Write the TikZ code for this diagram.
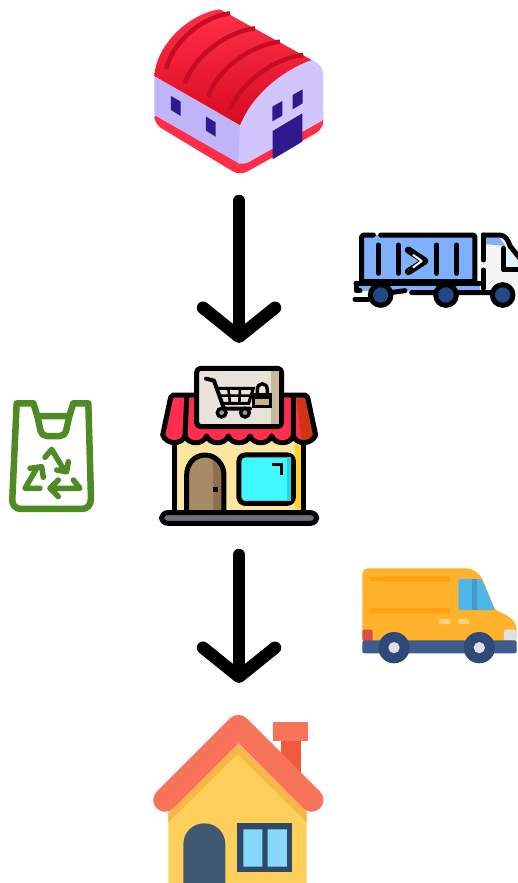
\documentclass[tikz,border=0pt]{standalone}
\usetikzlibrary{arrows.meta}
\definecolor{whdark}{HTML}{C40D24}
\definecolor{whlow}{HTML}{D80A20}
\definecolor{whred}{HTML}{FF3048}
\definecolor{whbase}{HTML}{FF2E48}
\definecolor{wall}{HTML}{C0B4F8}
\definecolor{wallb}{HTML}{D0C6FB}
\definecolor{navyw}{HTML}{2E1A8C}
\definecolor{cont}{HTML}{7FB0FB}
\definecolor{wheelb}{HTML}{23488A}
\definecolor{awn}{HTML}{FF2E50}
\definecolor{awnd}{HTML}{CF3510}
\definecolor{shopw}{HTML}{FFE6A0}
\definecolor{shops}{HTML}{FFD52A}
\definecolor{doorc}{HTML}{A98A66}
\definecolor{doors}{HTML}{8C6F4E}
\definecolor{glass}{HTML}{40F8FF}
\definecolor{glasss}{HTML}{20D8E0}
\definecolor{signc}{HTML}{E9E2DA}
\definecolor{signs}{HTML}{C9B69F}
\definecolor{basec}{HTML}{6E6E78}
\definecolor{lockc}{HTML}{C9AE86}
\definecolor{bagc}{HTML}{4E8B25}
\definecolor{vanb}{HTML}{FFB32C}
\definecolor{vand}{HTML}{FFA00D}
\definecolor{vanw}{HTML}{4DB8E8}
\definecolor{vanc}{HTML}{3E5C8A}
\definecolor{vanwh}{HTML}{2F4A78}
\definecolor{vanl}{HTML}{D94F45}
\definecolor{roofc}{HTML}{F7735A}
\definecolor{chim}{HTML}{F25A40}
\definecolor{hwall}{HTML}{FFCF5C}
\definecolor{hband}{HTML}{F9B648}
\definecolor{hdoor}{HTML}{3F5A70}
\definecolor{hframe}{HTML}{2F4A68}
\definecolor{hglass}{HTML}{88D8FA}
\tikzset{
  zoomat/.style 2 args={xshift=#1pt,yshift=-#2pt,x=0.3333pt,y=-0.3333pt},
  icon/.style={inner sep=0pt,outer sep=0pt},
  conn/.style={line width=12.5pt,line cap=round,-{Straight Barb[length=29pt,width=72pt,round]}},
  ink/.style={draw=black,line width=5pt,line join=round,line cap=round},
  bagline/.style={draw=bagc,line width=6.5pt,line join=round,line cap=round},
  recyc/.style={draw=bagc,line width=5.5pt,line join=round,line cap=round},
}
\begin{document}
\begin{tikzpicture}[x=1pt,y=-1pt]
\useasboundingbox (0,0) rectangle (518,883);
\clip (0,0) rectangle (518,883);

\node[icon,minimum width=170pt,minimum height=170pt] (warehouse) at (239,92) {};
\node[icon,minimum width=160pt,minimum height=160pt] (store) at (239,445) {};
\node[icon,minimum width=170pt,minimum height=170pt] (house) at (239,800) {};
\node[icon,minimum width=164pt,minimum height=75pt] (truck) at (436,268) {};
\node[icon,minimum width=84pt,minimum height=110pt] (bag) at (52,456) {};
\node[icon,minimum width=156pt,minimum height=96pt] (van) at (440,616) {};

% warehouse
\begin{scope}[zoomat={140}{0}]
  \fill[whbase,rounded corners=8pt] (43,335) -- (43,372) -- (300,527) -- (550,387) -- (550,335) -- cycle;
  \fill[wall] (43,228) -- (300,375) -- (300,492) -- (43,345) -- cycle;
  \fill[wallb] (300,375) .. controls (340,280) and (430,210) .. (515,180) .. controls (540,190) and (550,205) .. (550,225) -- (550,360) -- (325,487) .. controls (315,492) and (305,492) .. (295,490) -- cycle;
  \shade[top color=whred,bottom color=whlow] (43,228) .. controls (50,130) and (150,40) .. (240,28) -- (515,180) .. controls (430,210) and (340,280) .. (300,375) -- cycle;
  \draw[whdark,line width=4.5pt] (78,208) .. controls (100,120) and (190,50) .. (270,40);
  \draw[whdark,line width=4.5pt] (135,250) .. controls (160,170) and (260,95) .. (345,85);
  \draw[whdark,line width=4.5pt] (205,290) .. controls (230,210) and (330,135) .. (420,125);
  \draw[whdark,line width=4.5pt] (270,330) .. controls (300,250) and (400,175) .. (490,165);
  \fill[navyw] (93,288) -- (122,305) -- (122,348) -- (93,330) -- cycle;
  \fill[navyw] (198,350) -- (227,367) -- (227,410) -- (198,392) -- cycle;
  \fill[navyw] (397,320) -- (427,303) -- (427,347) -- (397,364) -- cycle;
  \fill[navyw] (458,285) -- (488,268) -- (488,310) -- (458,328) -- cycle;
  \fill[navyw] (398,393) -- (487,340) -- (487,425) -- (398,478) -- cycle;
\end{scope}

% truck
\begin{scope}[zoomat={340}{220}]
  \fill[cont] (65,45) rectangle (405,185);
  \fill[white!96!black] (430,50) -- (480,50) -- (510,85) -- (540,120) -- (540,225) -- (430,205) -- cycle;
  \fill[cont] (432,52) -- (478,52) -- (497,78) -- (432,72) -- cycle;
  \fill[cyan!12] (492,85) -- (540,110) -- (540,150) -- (492,150) -- cycle;
  \draw[ink] (100,45) -- (70,45) -- (65,50) -- (65,185) -- (405,185) -- (405,50) -- (400,45) -- (122,45);
  \draw[ink] (115,75) -- (115,160) (175,75) -- (175,160) (290,75) -- (290,160) (350,75) -- (350,160);
  \draw[black,line width=7pt,line cap=round,line join=round] (205,90) -- (255,123) -- (205,155);
  \draw[white,line width=2pt,line cap=round,line join=round] (220,105) -- (245,123) -- (220,142);
  \draw[ink] (430,45) -- (478,45) .. controls (495,45) and (505,60) .. (510,78) -- (540,115);
  \draw[ink] (430,45) -- (430,120) (430,150) -- (430,205);
  \draw[ink] (490,85) -- (490,150) -- (540,150);
  \fill[cont] (55,198) rectangle (420,212);
  \draw[ink] (48,190) -- (420,190);
  \draw[ink] (48,190) -- (48,212) -- (60,212) (45,238) -- (85,238);
  \draw[ink] (150,218) -- (195,212) (215,218) -- (285,218) (350,218) -- (455,218);
  \foreach \cx in {122,318,488} \draw[ink,fill=wheelb] (\cx,225) circle[radius=31];
\end{scope}

% store
\begin{scope}[zoomat={150}{360}]
  \fill[shopw] (78,240) rectangle (458,455);
  \fill[shops] (435,250) rectangle (458,455);
  \draw[ink] (75,245) -- (75,455) (460,245) -- (460,455);
  \fill[awn] (65,112) -- (470,112) -- (495,225) .. controls (480,255) and (440,255) .. (430,228) .. controls (420,255) and (375,255) .. (365,228) .. controls (355,255) and (310,255) .. (300,228) .. controls (290,255) and (245,255) .. (235,228) .. controls (225,255) and (180,255) .. (170,228) .. controls (160,255) and (115,255) .. (105,228) .. controls (95,255) and (50,255) .. (40,225) -- cycle;
  \fill[awnd] (440,115) -- (470,112) -- (495,225) .. controls (490,240) and (470,245) .. (455,240) -- cycle;
  \draw[ink] (140,105) -- (70,105) -- (62,112) -- (38,225) .. controls (50,255) and (95,255) .. (105,228) .. controls (115,255) and (160,255) .. (170,228) .. controls (180,255) and (225,255) .. (235,228) .. controls (245,255) and (290,255) .. (300,228) .. controls (310,255) and (355,255) .. (365,228) .. controls (375,255) and (420,255) .. (430,228) .. controls (440,255) and (485,255) .. (497,225) -- (473,112) -- (465,105) -- (395,105);
  \draw[ink] (110,115) -- (105,225) (430,115) -- (430,225);
  \fill[doorc] (112,455) -- (112,345) .. controls (112,310) and (135,290) .. (165,290) .. controls (195,290) and (220,310) .. (220,345) -- (220,455) -- cycle;
  \fill[doors] (185,297) .. controls (205,305) and (220,325) .. (220,345) -- (220,455) -- (190,455) -- (190,345) .. controls (190,325) and (190,310) .. (185,297) -- cycle;
  \draw[ink] (110,455) -- (110,345) .. controls (110,310) and (135,285) .. (165,285) .. controls (195,285) and (222,310) .. (222,345) -- (222,455);
  \fill[black] (188,381) rectangle (203,396);
  \draw[ink,fill=glass,rounded corners=6pt] (267,285) rectangle (430,430);
  \fill[glasss] (412,292) rectangle (424,424);
  \draw[black,line width=3.5pt] (365,314) -- (394,314) -- (394,345);
  \draw[ink,fill=basec,rounded corners=6pt] (35,458) rectangle (500,490);
  \draw[ink,fill=signc,rounded corners=4pt] (140,25) rectangle (395,200);
  \fill[signs] (362,32) rectangle (388,193);
  \draw[black,line width=4pt,line cap=round,line join=round] (168,56) -- (192,62) -- (222,146) -- (300,146);
  \draw[black,line width=3pt] (200,85) -- (310,85) -- (296,130) -- (218,130);
  \draw[black,line width=2.6pt] (208,107) -- (303,107) (235,85) -- (240,130) (270,85) -- (268,130);
  \draw[black,line width=3.4pt,fill=black!40] (215,158) circle[radius=13] (285,158) circle[radius=13];
  \draw[black,line width=3pt,fill=lockc] (312,103) rectangle (362,140);
  \fill[black] (312,103) rectangle (362,116);
  \draw[black,line width=3.4pt] (322,103) -- (322,90) .. controls (322,65) and (352,65) .. (352,90) -- (352,103);
\end{scope}

% bag
\begin{scope}[zoomat={0}{390}]
  \draw[bagline] (50,40) -- (100,40) -- (112,78) -- (208,78) -- (220,40) -- (265,40) -- (273,325) .. controls (273,345) and (262,357) .. (245,357) -- (65,357) .. controls (45,357) and (35,345) .. (37,325) -- cycle;
  \draw[bagline,rounded corners=5pt] (112,78) -- (125,138) -- (195,138) -- (208,78);
  \draw[recyc] (135,202) -- (155,178) -- (195,245) (170,240) -- (200,245) -- (205,215);
  \draw[recyc] (120,295) -- (75,295) -- (110,235) (90,235) -- (125,230) -- (130,262);
  \draw[recyc] (155,295) -- (240,295) -- (220,270) (175,270) -- (150,295) -- (175,320);
\end{scope}

% van
\begin{scope}[zoomat={350}{555}]
  \fill[vanb,rounded corners=5pt] (37,40) -- (365,40) -- (395,65) -- (435,165) -- (480,185) -- (500,210) -- (500,260) -- (37,260) -- cycle;
  \fill[vand] (60,65) rectangle (300,78) (60,160) rectangle (300,175);
  \fill[vanw,rounded corners=2pt] (325,72) -- (395,72) -- (435,165) -- (325,165) -- cycle;
  \fill[vanw!85!black] (365,72) rectangle (380,165);
  \fill[vanb!60!white] (268,192) rectangle (300,207) (325,192) rectangle (357,207);
  \fill[vanl,rounded corners=2pt] (37,224) rectangle (68,258);
  \fill[black!12,rounded corners=2pt] (462,224) rectangle (500,256);
  \fill[vanc,rounded corners=2pt] (37,256) rectangle (500,295);
  \foreach \cx in {132,388} {
    \fill[vanwh] (\cx,278) circle[radius=47];
    \fill[black!12] (\cx,278) circle[radius=17];
  }
\end{scope}

% house
\begin{scope}[zoomat={140}{705}]
  \fill[chim] (422,100) rectangle (482,205);
  \fill[roofc] (400,52) rectangle (503,107);
  \fill[hwall] (85,320) -- (293,115) -- (500,320) -- (500,540) -- (85,540) -- cycle;
  \fill[hband] (85,320) -- (293,115) -- (500,320) -- (500,352) -- (293,147) -- (85,352) -- cycle;
  \draw[roofc,line width=23.5pt,line cap=round,line join=round] (75,285) -- (295,65) -- (515,285);
  \fill[hdoor] (130,540) -- (130,418) .. controls (130,380) and (160,355) .. (193,355) .. controls (226,355) and (256,380) .. (256,418) -- (256,540) -- cycle;
  \fill[hframe] (292,355) rectangle (457,500);
  \fill[hglass] (310,373) rectangle (367,485) (383,373) rectangle (441,485);
\end{scope}

% connectors
\draw[conn,shorten <=24pt,shorten >=22pt] (warehouse.south) -- (store.north);
\draw[conn,shorten <=30pt,shorten >=32pt] (store.south) -- (house.north);
\end{tikzpicture}
\end{document}
